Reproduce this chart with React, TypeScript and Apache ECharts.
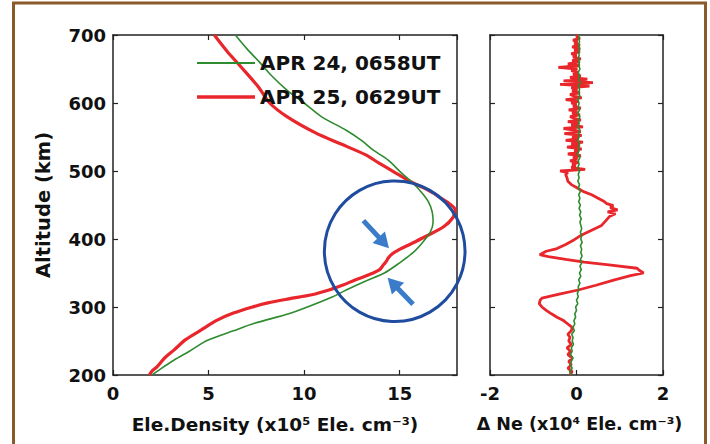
import React, { useEffect, useRef } from "react";
import * as echarts from "echarts";

const SERIES_NAMES = ["APR 24, 0658UT", "APR 25, 0629UT"];

// Left panel: electron density profiles (x10^5 el/cm3) vs altitude (km)
const apr24Alt = [200, 210, 222, 235, 251, 265, 276, 290, 298, 315, 325, 338, 350, 365, 380, 395, 410, 425, 440, 455, 470, 482, 497, 516, 531, 545, 560, 580, 600, 619, 640, 659, 680, 700];
const apr24Den = [2.05, 2.55, 3.2, 4.0, 4.95, 6.3, 7.4, 9.2, 10.0, 11.5, 12.2, 13.2, 14.2, 15.0, 15.7, 16.2, 16.6, 16.75, 16.7, 16.5, 16.1, 15.7, 15.1, 14.4, 13.6, 13.0, 12.2, 10.9, 10.0, 9.1, 8.3, 7.7, 7.0, 6.4];

const apr25Alt = [200, 206, 212, 225, 237, 252, 266, 280, 291, 300, 306, 312, 318, 325, 332, 340, 347, 355, 362, 367, 372, 378, 384, 393, 403, 418, 432, 443, 452, 460, 467, 476, 484, 497, 512, 524, 540, 556, 580, 600, 624, 653, 675, 700];
const apr25Den = [1.9, 2.05, 2.3, 2.7, 3.2, 3.8, 4.6, 5.4, 6.3, 7.3, 8.1, 9.2, 10.4, 11.3, 12.0, 12.7, 13.35, 13.95, 14.15, 14.3, 14.4, 14.6, 14.95, 15.6, 16.3, 17.3, 17.8, 17.9, 17.6, 17.15, 16.8, 16.2, 15.6, 14.8, 13.9, 13.2, 11.9, 10.6, 9.1, 8.2, 7.6, 6.7, 6.0, 5.3];

// Right panel: Delta Ne (x10^4 el/cm3) vs altitude (km)
const dAlt24 = [200, 205, 210, 215, 220, 225, 230, 235, 240, 245, 250, 255, 260, 265, 270, 275, 280, 285, 290, 295, 300, 305, 310, 315, 320, 325, 330, 335, 340, 345, 350, 355, 360, 365, 370, 375, 380, 385, 390, 395, 400, 405, 410, 415, 420, 425, 430, 435, 440, 445, 450, 455, 460, 465, 470, 475, 480, 485, 490, 495, 500, 505, 510, 515, 520, 525, 530, 535, 540, 545, 550, 555, 560, 565, 570, 575, 580, 585, 590, 595, 600, 605, 610, 615, 620, 625, 630, 635, 640, 645, 650, 655, 660, 665, 670, 675, 680, 685, 690, 695, 700];
const dNe24 = [-0.12, -0.16, -0.1, -0.15, -0.12, -0.08, -0.14, -0.1, -0.12, -0.07, -0.1, -0.08, -0.11, -0.05, -0.08, -0.04, -0.06, -0.02, -0.04, 0.0, -0.02, 0.03, 0.0, 0.04, 0.02, 0.05, 0.04, 0.08, 0.05, 0.1, 0.07, 0.11, 0.08, 0.12, 0.09, 0.13, 0.1, 0.12, 0.09, 0.13, 0.1, 0.12, 0.09, 0.12, 0.1, 0.08, 0.11, 0.07, 0.1, 0.06, 0.09, 0.05, 0.08, 0.05, 0.09, 0.04, 0.07, 0.03, 0.06, 0.04, 0.07, 0.03, 0.06, 0.04, 0.08, 0.02, 0.06, 0.04, 0.07, 0.03, 0.06, 0.05, 0.08, 0.03, 0.06, 0.04, 0.08, 0.03, 0.07, 0.04, 0.06, 0.03, 0.08, 0.05, 0.07, 0.04, 0.09, 0.05, 0.07, 0.04, 0.08, 0.05, 0.07, 0.04, 0.06, 0.05, 0.08, 0.04, 0.07, 0.05, 0.06];

// APR 25 difference profile: lower part (wave structure) and upper part (noisy)
const dAlt25Low = [200, 205, 210, 215, 220, 225, 230, 235, 240, 245, 250, 255, 260, 265, 270, 275, 280, 285, 290, 295, 300, 305, 310, 313, 319, 325, 332, 340, 346, 350, 354, 357, 362, 366, 370, 374, 377, 382, 386, 392, 399, 406, 413, 420, 427, 433, 437, 440, 443, 446, 449, 452, 456, 460, 465, 470, 475, 480, 485, 490, 495, 497.5];
const dNe25Low = [-0.15, -0.1, -0.2, -0.12, -0.18, -0.1, -0.2, -0.14, -0.22, -0.12, -0.18, -0.15, -0.2, -0.12, -0.1, -0.2, -0.3, -0.45, -0.58, -0.7, -0.8, -0.86, -0.84, -0.8, -0.4, 0.04, 0.45, 0.88, 1.25, 1.55, 1.45, 1.4, 0.75, 0.18, -0.25, -0.65, -0.85, -0.7, -0.45, -0.25, -0.05, 0.12, 0.35, 0.58, 0.68, 0.76, 0.9, 0.72, 0.95, 0.78, 0.85, 0.7, 0.62, 0.5, 0.35, 0.15, 0.02, -0.12, -0.2, -0.22, -0.25, -0.2];
const dAlt25High = [500, 502.5, 505, 507.5, 510, 512.5, 515, 517.5, 520, 522.5, 525, 527.5, 530, 532.5, 535, 537.5, 540, 542.5, 545, 547.5, 550, 552.5, 555, 557.5, 560, 562.5, 565, 567.5, 570, 572.5, 575, 577.5, 580, 582.5, 585, 587.5, 590, 592.5, 595, 597.5, 600, 602.5, 605, 607.5, 610, 612.5, 615, 617.5, 620, 622.5, 625, 627.5, 630, 632.5, 635, 637.5, 640, 642.5, 645, 647.5, 650, 652.5, 655, 657.5, 660, 662.5, 665, 667.5, 670, 672.5, 675, 677.5, 680, 682.5, 685, 687.5, 690, 692.5, 695, 697.5, 700];
const dNe25High = [-0.38, 0.2, -0.12, -0.02, -0.1, 0.05, -0.15, 0.02, -0.08, 0.1, -0.2, 0.05, -0.05, 0.12, -0.22, 0.08, -0.12, 0.15, -0.25, 0.05, -0.1, 0.12, -0.28, 0.1, -0.05, -0.3, 0.15, -0.12, 0.05, -0.2, 0.1, -0.05, -0.15, 0.08, -0.1, 0.02, -0.18, 0.1, -0.08, 0.0, -0.12, 0.05, -0.25, 0.12, -0.05, -0.15, 0.08, -0.1, 0.02, -0.12, 0.3, -0.38, 0.38, -0.3, 0.25, -0.15, 0.1, -0.08, 0.05, -0.12, 0.02, -0.42, 0.08, -0.2, 0.05, -0.1, 0.1, -0.08, 0.0, -0.12, 0.08, -0.05, 0.05, -0.1, 0.08, -0.05, 0.02, -0.08, 0.08, 0.0, 0.05];

const altMin = 200;
const altMax = 700;
const altStep = 100;
const denMin = 0;
const denMax = 18;
const denStep = 5;
const dMin = -2;
const dMax = 2;
const dStep = 2;

// Annotation (blue circle + arrows) anchored in data units of the left panel
const circleCenter = [14.74, 382];
const circleEdgeX = 18.42;
const arrowUpper = [[13.1, 427], [14.44, 386.5]];
const arrowLower = [[15.7, 304], [14.37, 343]];

const FONT = "DejaVu Sans";
const GREEN = "#2e8b2e";
const RED = "#e8262b";

function zip(xs: number[], ys: number[]) {
  return xs.map((x, i) => [x, ys[i]]);
}

export default function App() {
  const ref = useRef<HTMLDivElement>(null);

  useEffect(() => {
    document.body.style.margin = "0";
    document.body.style.background = "#ffffff";
    if (!ref.current) return;
    const chart = echarts.init(ref.current, undefined, { renderer: "svg" });

    const axisLine = { show: true, onZero: false, lineStyle: { color: "#222", width: 1.5 } };
    const tick = { show: true, inside: true, length: 5, lineStyle: { color: "#222", width: 1.2 } };
    const label = { fontFamily: FONT, fontWeight: "bold" as const, fontSize: 18, color: "#111" };

    const xAxes: any[] = [
      {
        type: "value", gridIndex: 0, position: "bottom", min: denMin, max: denMax, interval: denStep,
        axisLine, axisTick: tick, splitLine: { show: false },
        axisLabel: { ...label, margin: 9, showMaxLabel: false },
        name: "Ele.Density (x10⁵ Ele. cm⁻³)", nameLocation: "middle", nameGap: 40,
        nameTextStyle: { ...label, fontSize: 18.5, padding: [0, 20, 0, 0] },
      },
      {
        type: "value", gridIndex: 0, position: "top", min: denMin, max: denMax, interval: denStep,
        axisLine, axisTick: tick, splitLine: { show: false }, axisLabel: { show: false },
      },
      {
        type: "value", gridIndex: 1, position: "bottom", min: dMin, max: dMax, interval: dStep,
        axisLine, axisTick: tick, splitLine: { show: false },
        axisLabel: { ...label, margin: 9 },
        name: "Δ Ne (x10⁴ Ele. cm⁻³)", nameLocation: "middle", nameGap: 40,
        nameTextStyle: { ...label, fontSize: 17.5, padding: [0, 0, 0, 6] },
      },
      {
        type: "value", gridIndex: 1, position: "top", min: dMin, max: dMax, interval: dStep,
        axisLine, axisTick: tick, splitLine: { show: false }, axisLabel: { show: false },
      },
    ];
    const yAxes: any[] = [
      {
        type: "value", gridIndex: 0, position: "left", min: altMin, max: altMax, interval: altStep,
        axisLine, axisTick: tick, splitLine: { show: false },
        axisLabel: { ...label, margin: 7 },
        name: "Altitude (km)", nameLocation: "middle", nameGap: 60,
        nameTextStyle: { ...label, fontSize: 19.5 },
      },
      {
        type: "value", gridIndex: 0, position: "right", min: altMin, max: altMax, interval: altStep,
        axisLine, axisTick: tick, splitLine: { show: false }, axisLabel: { show: false },
      },
      {
        type: "value", gridIndex: 1, position: "left", min: altMin, max: altMax, interval: altStep,
        axisLine, axisTick: tick, splitLine: { show: false }, axisLabel: { show: false },
      },
      {
        type: "value", gridIndex: 1, position: "right", min: altMin, max: altMax, interval: altStep,
        axisLine, axisTick: tick, splitLine: { show: false }, axisLabel: { show: false },
      },
    ];

    chart.setOption({
      animation: false,
      backgroundColor: "#ffffff",
      grid: [
        { left: 113, top: 35, width: 344, height: 340, containLabel: false },
        { left: 490, top: 35, width: 173, height: 340, containLabel: false },
      ],
      xAxis: xAxes,
      yAxis: yAxes,
      legend: {
        data: [
          { name: SERIES_NAMES[0], icon: "path://M0,0H58V1.8H0Z" },
          { name: SERIES_NAMES[1], icon: "path://M0,0H58V3.4H0Z" },
        ],
        orient: "vertical",
        left: 197,
        top: 53,
        padding: 0,
        itemWidth: 58,
        itemHeight: 20,
        itemGap: 14,
        selectedMode: false,
        textStyle: { fontFamily: FONT, fontWeight: "bold", fontSize: 20, color: "#111" },
      },
      series: [
        {
          name: SERIES_NAMES[0], type: "line", xAxisIndex: 0, yAxisIndex: 0,
          data: zip(apr24Den, apr24Alt), symbol: "none", smooth: 0.3,
          lineStyle: { color: GREEN, width: 1.6 }, itemStyle: { color: GREEN }, z: 3,
        },
        {
          name: SERIES_NAMES[1], type: "line", xAxisIndex: 0, yAxisIndex: 0,
          data: zip(apr25Den, apr25Alt), symbol: "none", smooth: 0.3,
          lineStyle: { color: RED, width: 3.2 }, itemStyle: { color: RED }, z: 2,
        },
        {
          name: SERIES_NAMES[1], type: "line", xAxisIndex: 2, yAxisIndex: 2,
          data: zip(dNe25Low.concat(dNe25High), dAlt25Low.concat(dAlt25High)), symbol: "none",
          lineStyle: { color: RED, width: 2.8 }, itemStyle: { color: RED }, z: 2,
        },
        {
          name: SERIES_NAMES[0], type: "line", xAxisIndex: 2, yAxisIndex: 2,
          data: zip(dNe24, dAlt24), symbol: "none",
          lineStyle: { color: GREEN, width: 1.6 }, itemStyle: { color: GREEN }, z: 3,
        },
      ],
    });

    const toPx = (p: number[]) => chart.convertToPixel({ gridIndex: 0 }, p) as number[];
    const c = toPx(circleCenter);
    const edge = toPx([circleEdgeX, circleCenter[1]]);
    const r = edge[0] - c[0];
    const ARROW = "#3a7cc9";
    const makeArrow = (pair: number[][], id: string) => {
      const tail = toPx(pair[0]);
      const tip = toPx(pair[1]);
      const dx = tip[0] - tail[0];
      const dy = tip[1] - tail[1];
      const len = Math.hypot(dx, dy);
      const ux = dx / len;
      const uy = dy / len;
      const headLen = 15;
      const headW = 8.5;
      const bx = tip[0] - ux * headLen;
      const by = tip[1] - uy * headLen;
      const px = -uy;
      const py = ux;
      return [
        { type: "line", id: id + "s", z: 100, shape: { x1: tail[0], y1: tail[1], x2: bx + ux * 2, y2: by + uy * 2 }, style: { stroke: ARROW, lineWidth: 5 } },
        { type: "polygon", id: id + "h", z: 100, shape: { points: [[tip[0], tip[1]], [bx + px * headW, by + py * headW], [bx - px * headW, by - py * headW]] }, style: { fill: ARROW } },
      ];
    };
    const FRAME = "#8a5a2b";
    chart.setOption({
      graphic: [
        { type: "circle", id: "circ", z: 100, shape: { cx: c[0], cy: c[1], r }, style: { fill: "none", stroke: "#1f4c9e", lineWidth: 3 } },
        ...makeArrow(arrowUpper, "a1"),
        ...makeArrow(arrowLower, "a2"),
        { type: "polyline", id: "frame", z: 100, shape: { points: [[13.5, 444], [13.5, 3], [705.5, 3], [705.5, 444]] }, style: { fill: "none", stroke: FRAME, lineWidth: 3 } },
      ],
    });

    return () => chart.dispose();
  }, []);

  return <div ref={ref} style={{ width: 710, height: 444 }} />;
}
